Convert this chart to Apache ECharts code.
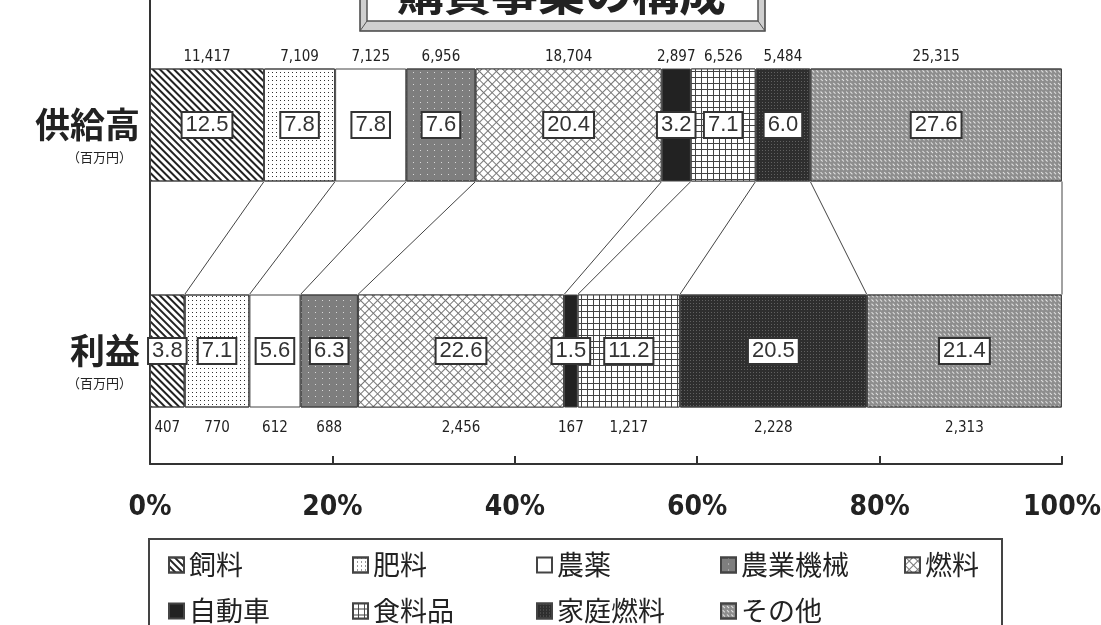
<!DOCTYPE html>
<html>
<head>
<meta charset="utf-8">
<title>購買事業の構成</title>
<script src="https://cdn.jsdelivr.net/npm/echarts@6/dist/echarts.min.js"></script>
<style>
  html, body { margin: 0; padding: 0; background: #fff; }
  #chart { width: 1101px; height: 625px; }
</style>
</head>
<body>
<div id="chart"></div>
<script>
// データ
let categories = ['供給高', '利益']
let itemNames = ['飼料', '肥料', '農薬', '農業機械', '燃料', '自動車', '食料品', '家庭燃料', 'その他']
let supplyPct = [12.5, 7.8, 7.8, 7.6, 20.4, 3.2, 7.1, 6.0, 27.6]
let profitPct = [3.8, 7.1, 5.6, 6.3, 22.6, 1.5, 11.2, 20.5, 21.4]
let supplyValue = [11417, 7109, 7125, 6956, 18704, 2897, 6526, 5484, 25315]
let profitValue = [407, 770, 612, 688, 2456, 167, 1217, 2228, 2313]
let tickLabels = ['0%', '20%', '40%', '60%', '80%', '100%']

let narrow = '"Liberation Sans Narrow", "DejaVu Sans Condensed", sans-serif'
let jp = '"Noto Sans CJK JP", sans-serif'

// 模様（塗り + decal）
let patterns = [
  { color: '#fff', decal: { symbol: 'rect', symbolSize: 1, dashArrayX: [1, 0], dashArrayY: [2, 3], rotation: Math.PI / 4, color: '#222' } },
  { color: '#fff', decal: { symbol: 'rect', symbolSize: 1, dashArrayX: [1, 3], dashArrayY: [1, 3], color: '#333' } },
  { color: '#fff', decal: 'none' },
  { color: '#7e7e7e', decal: { symbol: 'rect', symbolSize: 1, dashArrayX: [1, 6], dashArrayY: [1, 5], color: '#d8d8d8' } },
  { color: '#777', decal: { symbol: 'rect', symbolSize: 1, dashArrayX: [5, 1], dashArrayY: [5, 1], rotation: Math.PI / 4, color: '#fff' } },
  { color: '#222', decal: 'none' },
  { color: '#444', decal: { symbol: 'rect', symbolSize: 1, dashArrayX: [5, 1], dashArrayY: [5, 1], color: '#fff' } },
  { color: '#2e2e2e', decal: { symbol: 'rect', symbolSize: 1, dashArrayX: [1, 2], dashArrayY: [1, 2], color: '#606060' } },
  { color: '#8e8e8e', decal: { symbol: 'rect', symbolSize: 1, dashArrayX: [[3, 3], [0, 3, 3, 0]], dashArrayY: [1, 2], rotation: Math.PI / 4, color: '#e4e4e4' } }
]

let chart = echarts.init(document.getElementById('chart'))

let series = []
// 構成比の積み上げ棒
for (let i = 0; i < itemNames.length; i++) {
  let pt = patterns[i]
  series.push({
    type: 'bar',
    name: itemNames[i],
    stack: 'pct',
    barWidth: '50%',
    barGap: '-100%',
    z: 3,
    itemStyle: {
      color: pt.color,
      decal: pt.decal === 'none' ? null : pt.decal,
      borderColor: '#444',
      borderWidth: 1
    },
    emphasis: { disabled: true },
    label: {
      show: true,
      position: 'inside',
      formatter: p => p.value.toFixed(1),
      fontSize: 22,
      fontFamily: '"Liberation Sans", Arial, sans-serif',
      color: '#333',
      backgroundColor: '#fff',
      borderColor: '#333',
      borderWidth: 2,
      padding: [1, 3]
    },
    data: [supplyPct[i], profitPct[i]]
  })
}
// 金額ラベル（透明な棒に付ける）
for (let i = 0; i < itemNames.length; i++) {
  series.push({
    type: 'bar',
    name: 'v' + i,
    stack: 'val',
    barWidth: '50%',
    barGap: '-100%',
    silent: true,
    z: 1,
    itemStyle: { color: 'rgba(0,0,0,0)' },
    label: {
      show: true,
      fontSize: 15,
      fontFamily: narrow,
      color: '#222',
      formatter: p => (p.dataIndex === 0 ? supplyValue[i] : profitValue[i]).toLocaleString('en-US')
    },
    data: [
      { value: supplyPct[i], label: { position: 'top', distance: 4 } },
      { value: profitPct[i], label: { position: 'bottom', distance: 13 } }
    ]
  })
}
// 上下の棒をつなぐ線
let bounds = []
let a = 0
let b = 0
for (let i = 0; i < itemNames.length; i++) {
  a += supplyPct[i]
  b += profitPct[i]
  bounds.push([Math.min(a, 100), Math.min(b, 100), 0])
}
series.push({
  type: 'custom',
  name: 'link',
  silent: true,
  clip: false,
  encode: { x: [0, 1], y: 2 },
  renderItem (params, api) {
    let p1 = api.coord([api.value(0), 0])
    let p2 = api.coord([api.value(1), 1])
    let half = api.size([0, 1])[1] * 0.25
    return {
      type: 'line',
      shape: { x1: p1[0], y1: p1[1] + half, x2: p2[0], y2: p2[1] - half },
      style: { stroke: '#444', lineWidth: 1 }
    }
  },
  data: bounds
})

let option = {
  animation: false,
  backgroundColor: '#fff',
  title: {
    text: '購買事業の構成',
    left: 397,
    top: -31,
    padding: 0,
    textStyle: { fontSize: 47, fontWeight: 'bold', fontFamily: jp, color: '#222', lineHeight: 47 }
  },
  graphic: [
    { type: 'rect', shape: { x: 360, y: -40, width: 405, height: 71 }, style: { fill: '#cfcfcf', stroke: '#444', lineWidth: 1.5 }, z: 0 },
    { type: 'rect', shape: { x: 367, y: -40, width: 391, height: 61 }, style: { fill: '#fff', stroke: '#555', lineWidth: 1.5 }, z: 0 },
    { type: 'line', shape: { x1: 360, y1: 31, x2: 367, y2: 21 }, style: { stroke: '#555', lineWidth: 1 }, z: 0 },
    { type: 'line', shape: { x1: 765, y1: 31, x2: 758, y2: 21 }, style: { stroke: '#555', lineWidth: 1 }, z: 0 },
    // 縦軸の上端
    { type: 'line', shape: { x1: 150, y1: 0, x2: 150, y2: 13 }, style: { stroke: '#333', lineWidth: 2 }, z: 0 }
  ],
  legend: {
    data: itemNames.map(n => n === '燃料' ? { name: n, textStyle: { width: 60 } } : n),
    left: 149,
    top: 539,
    width: 830,
    padding: [8, 17, 30, 19],
    borderColor: '#444',
    borderWidth: 2,
    icon: 'rect',
    itemWidth: 15,
    itemHeight: 15,
    itemGap: 10,
    selectedMode: false,
    textStyle: { fontSize: 27, fontFamily: jp, color: '#222', width: 153, lineHeight: 36 }
  },
  grid: {
    left: 150,
    right: 39,
    top: 12,
    bottom: 161,
    outerBoundsMode: 'none'
  },
  xAxis: {
    type: 'value',
    min: 0,
    max: 100,
    interval: 20,
    splitLine: { show: false },
    axisLine: { show: true, lineStyle: { color: '#333', width: 2 } },
    axisTick: { show: true, inside: true, length: 8, lineStyle: { color: '#333', width: 2 } },
    axisLabel: {
      margin: 30,
      fontSize: 28,
      fontWeight: 'bold',
      fontFamily: narrow,
      color: '#222',
      formatter: v => tickLabels[Math.round(v / 20)]
    }
  },
  yAxis: {
    type: 'category',
    inverse: true,
    data: categories,
    axisLine: { show: true, lineStyle: { color: '#333', width: 2 } },
    axisTick: { show: false },
    axisLabel: {
      margin: 10,
      align: 'right',
      formatter: v => '{s|}\n{a|' + v + '}\n{b|（百万円）}',
      rich: {
        s: { height: 24, lineHeight: 24 },
        a: { fontSize: 35, fontWeight: 'bold', fontFamily: jp, color: '#222', lineHeight: 40, align: 'right' },
        b: { fontSize: 13, fontFamily: jp, color: '#222', lineHeight: 24, align: 'right', padding: [0, 8, 0, 0] }
      }
    }
  },
  series: series
}

chart.setOption(option)
</script>
</body>
</html>
